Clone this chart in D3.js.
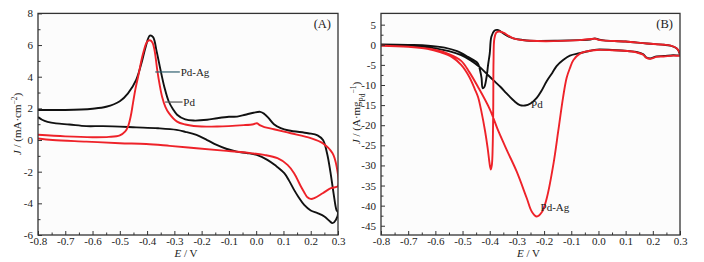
<!DOCTYPE html>
<html>
<head>
<meta charset="utf-8">
<script src="https://cdn.jsdelivr.net/npm/d3@7"></script>
<style>
  body { margin: 0; background: #fff; }
  text { font-family: "Liberation Serif", "DejaVu Serif", serif; fill: #222; }
</style>
</head>
<body>
<div id="chart"></div>
<script>
// tick values
var xTicks = [-0.8, -0.7, -0.6, -0.5, -0.4, -0.3, -0.2, -0.1, 0.0, 0.1, 0.2, 0.3];
var yTicksA = [8, 6, 4, 2, 0, -2, -4, -6];
var yTicksB = [5, 0, -5, -10, -15, -20, -25, -30, -35, -40, -45];

// (A) black curve [E, J], forward then back
var aBlack = [[-0.8,1.9],[-0.7,1.9],[-0.6,1.98],[-0.55,2.1],[-0.5,2.45],[-0.47,2.95],[-0.44,3.8],
  [-0.42,4.9],[-0.405,5.9],[-0.39,6.6],[-0.378,6.5],[-0.365,5.6],[-0.351,4.45],[-0.336,3.3],
  [-0.321,2.45],[-0.305,1.95],[-0.29,1.6],[-0.26,1.3],[-0.229,1.23],[-0.18,1.28],[-0.143,1.38],
  [-0.1,1.47],[-0.07,1.48],[-0.04,1.6],[-0.01,1.72],[0.015,1.78],[0.03,1.65],[0.045,1.4],
  [0.065,1.0],[0.09,0.75],[0.12,0.6],[0.19,0.43],[0.225,0.3],[0.245,0.0],[0.26,-0.85],
  [0.272,-2.0],[0.284,-3.4],[0.294,-4.4],[0.3,-4.6],[0.292,-5.05],[0.28,-5.25],[0.268,-5.1],
  [0.25,-4.83],[0.225,-4.62],[0.2,-4.45],[0.176,-4.1],[0.155,-3.6],[0.139,-3.15],[0.12,-2.55],
  [0.103,-2.09],[0.07,-1.6],[0.041,-1.25],[0.002,-0.94],[-0.035,-0.82],[-0.071,-0.73],
  [-0.11,-0.55],[-0.145,-0.31],[-0.18,0.0],[-0.219,0.32],[-0.26,0.52],[-0.292,0.64],
  [-0.36,0.74],[-0.44,0.8],[-0.562,0.88],[-0.623,0.88],[-0.685,0.98],[-0.734,1.05],
  [-0.765,1.15],[-0.785,1.28],[-0.8,1.45]];

// (A) red curve
var aRed = [[-0.8,0.33],[-0.7,0.23],[-0.6,0.18],[-0.54,0.2],[-0.5,0.3],[-0.48,0.55],[-0.47,0.85],
  [-0.46,1.5],[-0.452,2.3],[-0.443,3.2],[-0.433,4.0],[-0.415,5.45],[-0.4,6.2],[-0.39,6.3],
  [-0.38,6.15],[-0.372,5.6],[-0.363,4.45],[-0.354,3.5],[-0.345,2.74],[-0.333,2.1],[-0.32,1.7],
  [-0.29,1.16],[-0.26,0.98],[-0.229,0.89],[-0.143,0.85],[-0.045,0.94],[-0.01,1.0],[0.003,1.06],
  [0.015,0.92],[0.03,0.82],[0.065,0.68],[0.127,0.43],[0.2,0.12],[0.244,-0.2],[0.28,-0.83],
  [0.295,-1.68],[0.3,-2.9],[0.285,-3.0],[0.274,-3.04],[0.244,-3.36],[0.213,-3.67],[0.2,-3.72],
  [0.188,-3.62],[0.176,-3.3],[0.164,-2.94],[0.139,-2.1],[0.115,-1.57],[0.078,-1.15],
  [0.029,-0.94],[-0.02,-0.83],[-0.12,-0.67],[-0.219,-0.52],[-0.317,-0.37],[-0.403,-0.25],
  [-0.5,-0.2],[-0.623,-0.1],[-0.746,0.0],[-0.8,0.1]];

// (B) black curve (Pd)
var bBlack = [[-0.8,0.05],[-0.7,-0.05],[-0.627,-0.2],[-0.566,-0.7],[-0.52,-1.6],[-0.48,-3.0],
  [-0.455,-4.0],[-0.443,-4.7],[-0.435,-6.5],[-0.43,-8.3],[-0.426,-10.8],[-0.42,-10.5],
  [-0.412,-8.2],[-0.406,-5],[-0.4,-2.2],[-0.394,2.0],[-0.383,3.5],[-0.372,3.7],[-0.36,3.3],
  [-0.335,2.2],[-0.313,1.6],[-0.28,1.2],[-0.252,1.0],[-0.15,1.0],[-0.068,1.15],[-0.03,1.3],
  [-0.013,1.6],[0.0,1.3],[0.02,1.1],[0.1,0.8],[0.178,0.3],[0.24,0.0],[0.263,-0.2],
  [0.288,-0.9],[0.3,-2.4],[0.3,-2.6],[0.275,-2.6],[0.24,-2.8],[0.214,-2.9],[0.19,-3.4],
  [0.175,-3.1],[0.165,-2.4],[0.14,-1.8],[0.116,-1.6],[0.05,-1.3],[-0.006,-1.2],[-0.031,-1.5],
  [-0.07,-2.1],[-0.105,-2.7],[-0.13,-3.8],[-0.154,-5.3],[-0.17,-7],[-0.19,-9],[-0.21,-11.5],
  [-0.227,-13.2],[-0.25,-14.6],[-0.27,-15.1],[-0.289,-15.0],[-0.31,-14.0],[-0.338,-12.1],
  [-0.36,-10.5],[-0.387,-8.8],[-0.41,-7.3],[-0.436,-5.6],[-0.47,-3.9],[-0.505,-2.6],
  [-0.55,-1.6],[-0.6,-0.9],[-0.65,-0.45],[-0.7,-0.2],[-0.8,0.0]];

// (B) red curve (Pd-Ag)
var bRed = [[-0.8,-0.25],[-0.7,-0.5],[-0.63,-1.0],[-0.58,-1.9],[-0.54,-3.0],[-0.505,-5.0],
  [-0.475,-8.0],[-0.455,-11.0],[-0.443,-13.0],[-0.43,-16.8],[-0.417,-21.5],[-0.408,-25.5],
  [-0.399,-30.2],[-0.396,-31.0],[-0.392,-29.8],[-0.389,-25],[-0.387,-15],[-0.386,-4],
  [-0.383,1.5],[-0.376,3.0],[-0.366,3.3],[-0.35,3.0],[-0.313,1.6],[-0.252,1.0],[-0.068,1.15],
  [-0.013,1.5],[0.006,1.15],[0.1,0.8],[0.178,0.3],[0.24,0.0],[0.263,-0.15],[0.288,-0.9],
  [0.3,-2.3],[0.3,-2.7],[0.275,-2.7],[0.24,-2.9],[0.214,-3.0],[0.19,-3.5],[0.175,-3.2],
  [0.165,-2.5],[0.14,-1.9],[0.116,-1.6],[0.05,-1.35],[-0.006,-1.3],[-0.04,-1.6],[-0.068,-2.2],
  [-0.092,-3.8],[-0.105,-5.8],[-0.117,-8.2],[-0.13,-13],[-0.148,-21.5],[-0.166,-29.8],
  [-0.19,-38.1],[-0.208,-41.6],[-0.227,-42.7],[-0.245,-41.5],[-0.264,-38.1],[-0.301,-31.5],
  [-0.335,-26.5],[-0.368,-21.5],[-0.40,-16],[-0.443,-10.5],[-0.475,-6.8],[-0.505,-4.0],
  [-0.55,-2.3],[-0.6,-1.3],[-0.7,-0.5],[-0.8,-0.25]];

var W = 704, H = 262;
var svg = d3.select("#chart").append("svg").attr("width", W).attr("height", H);

function drawPanel(p) {
  var x = d3.scaleLinear().domain([-0.8, 0.3]).range([p.left, p.right]);
  var y = d3.scaleLinear().domain(p.yDomain).range([p.bottom, p.top]);
  var g = svg.append("g");

  g.append("rect")
   .attr("x", p.left).attr("y", p.top)
   .attr("width", p.right - p.left).attr("height", p.bottom - p.top)
   .attr("fill", "#fcfcfc");

  var line = d3.line()
    .x(function(d) { return x(d[0]); })
    .y(function(d) { return y(d[1]); })
    .curve(d3.curveCatmullRom.alpha(0.5));

  var clipId = "clip" + p.name;
  svg.append("clipPath").attr("id", clipId).append("rect")
     .attr("x", p.left).attr("y", p.top)
     .attr("width", p.right - p.left).attr("height", p.bottom - p.top);

  p.series.forEach(function(s) {
    g.append("path")
     .datum(s.data)
     .attr("d", line)
     .attr("clip-path", "url(#" + clipId + ")")
     .attr("fill", "none")
     .attr("stroke", s.color)
     .attr("stroke-width", 1.9)
     .attr("stroke-linejoin", "round");
  });

  // minor ticks, inward
  var xMinor = d3.range(-0.75, 0.3, 0.1);
  g.append("g")
   .attr("transform", "translate(0," + p.bottom + ")")
   .call(d3.axisTop(x).tickValues(xMinor).tickSize(2.5).tickFormat(""))
   .call(function(a) { a.select(".domain").remove(); });
  g.append("g")
   .attr("transform", "translate(" + p.left + ",0)")
   .call(d3.axisRight(y).tickValues(p.yMinor).tickSize(2.5).tickFormat(""))
   .call(function(a) { a.select(".domain").remove(); });

  // major ticks with labels outside
  var xa = g.append("g")
   .attr("transform", "translate(0," + p.bottom + ")")
   .call(d3.axisBottom(x).tickValues(xTicks).tickSize(-4).tickPadding(2)
         .tickFormat(function(d) { return d3.format(".1f")(d).replace("−", "-"); }));
  xa.select(".domain").remove();
  xa.selectAll("text").style("font-size", "11px").style("font-family", "Liberation Serif").attr("fill", "#222");

  var ya = g.append("g")
   .attr("transform", "translate(" + p.left + ",0)")
   .call(d3.axisLeft(y).tickValues(p.yTicks).tickSize(-4).tickPadding(5)
         .tickFormat(function(d) { return String(d).replace("−", "-"); }));
  ya.select(".domain").remove();
  ya.selectAll("text").style("font-size", "11px").style("font-family", "Liberation Serif").attr("fill", "#222");

  g.selectAll(".tick line").attr("stroke", "#333");

  // frame
  g.append("rect")
   .attr("x", p.left).attr("y", p.top)
   .attr("width", p.right - p.left).attr("height", p.bottom - p.top)
   .attr("fill", "none").attr("stroke", "#333").attr("stroke-width", 1.3);

  // panel tag
  g.append("text")
   .attr("x", p.right - 7).attr("y", p.top + 15)
   .attr("text-anchor", "end")
   .style("font-size", "12.5px")
   .text(p.tag);

  // x title
  var xt = g.append("text")
   .attr("x", (p.left + p.right) / 2 - 2).attr("y", 257)
   .attr("text-anchor", "middle")
   .style("font-size", "11px");
  xt.append("tspan").style("font-style", "italic").text("E");
  xt.append("tspan").text(" / V");

  // y title
  var yt = g.append("text")
   .attr("transform", "translate(" + p.yTitleX + "," + p.yTitleY + ") rotate(-90)")
   .attr("text-anchor", "middle")
   .style("font-size", "11px");
  p.yTitle(yt);

  return { x: x, y: y, g: g };
}

var A = drawPanel({
  name: "A", left: 38, right: 338, top: 13.4, bottom: 235,
  yDomain: [-6, 8], yTicks: yTicksA, yMinor: d3.range(-5, 8, 2),
  tag: "(A)", yTitleX: 21, yTitleY: 124,
  series: [{ data: aBlack, color: "#111" }, { data: aRed, color: "#ee2229" }],
  yTitle: function(t) {
    t.append("tspan").style("font-style", "italic").text("J");
    t.append("tspan").text(" / (mA·cm");
    t.append("tspan").attr("baseline-shift", "super").style("font-size", "7.5px").text("−2");
    t.append("tspan").text(")");
  }
});

var B = drawPanel({
  name: "B", left: 381, right: 680, top: 13.4, bottom: 235,
  yDomain: [-47.3, 7.8], yTicks: yTicksB, yMinor: d3.range(-42.5, 7, 5),
  tag: "(B)", yTitleX: 360, yTitleY: 113,
  series: [{ data: bBlack, color: "#111" }, { data: bRed, color: "#ee2229" }],
  yTitle: function(t) {
    t.append("tspan").style("font-style", "italic").text("J");
    t.append("tspan").text(" / (A·mg");
    t.append("tspan").attr("baseline-shift", "sub").style("font-size", "7.5px").text("Pd");
    t.append("tspan").attr("baseline-shift", "super").style("font-size", "7.5px").text("−1");
    t.append("tspan").text(")");
  }
});

// labels with leader lines in (A)
A.g.append("line").attr("x1", A.x(-0.37)).attr("y1", A.y(4.3))
   .attr("x2", A.x(-0.28)).attr("y2", A.y(4.3))
   .attr("stroke", "#2f5f6f").attr("stroke-width", 1.2);
A.g.append("text").attr("x", A.x(-0.277)).attr("y", A.y(4.3) + 4)
   .style("font-size", "11px").text("Pd-Ag");
A.g.append("line").attr("x1", A.x(-0.334)).attr("y1", A.y(2.4))
   .attr("x2", A.x(-0.27)).attr("y2", A.y(2.4))
   .attr("stroke", "#555").attr("stroke-width", 1.2);
A.g.append("text").attr("x", A.x(-0.267)).attr("y", A.y(2.4) + 4)
   .style("font-size", "11px").text("Pd");

// labels in (B)
B.g.append("text").attr("x", B.x(-0.248)).attr("y", B.y(-15.6))
   .style("font-size", "11px").text("Pd");
B.g.append("text").attr("x", B.x(-0.213)).attr("y", B.y(-41.3))
   .style("font-size", "11px").text("Pd-Ag");
</script>
</body>
</html>
